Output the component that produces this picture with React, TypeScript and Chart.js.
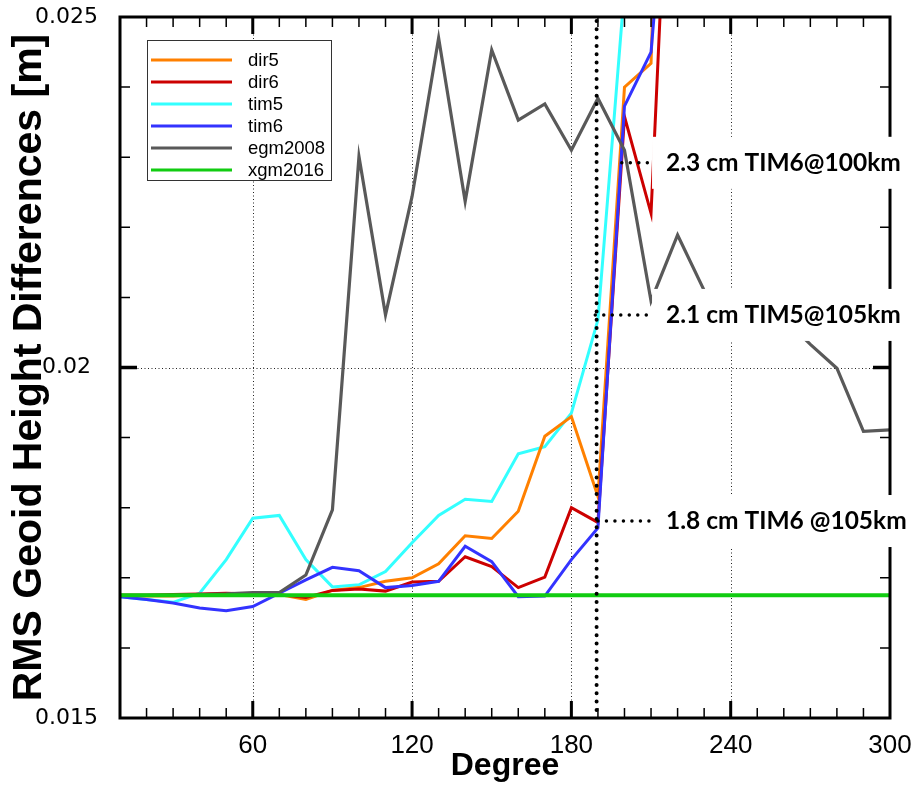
import React, { useEffect, useRef } from 'react';
import { Chart, registerables } from 'chart.js';
Chart.register(...registerables);

// ---- data (degree 10..300 step 10) ----
const degrees = [10, 20, 30, 40, 50, 60, 70, 80, 90, 100, 110, 120, 130, 140, 150, 160, 170, 180, 190, 200, 210, 220, 230, 240, 250, 260, 270, 280, 290, 300];

const dir5 = [0.01674, 0.01674, 0.01674, 0.01676, 0.01676, 0.01676, 0.01676, 0.01669, 0.01682, 0.01686, 0.01695, 0.017, 0.0172, 0.0176, 0.01756, 0.01795, 0.01902, 0.0193, 0.01816, 0.024, 0.02434, 0.036];
const dir6 = [0.01675, 0.01675, 0.01676, 0.01677, 0.01678, 0.01677, 0.01676, 0.01672, 0.01682, 0.01684, 0.01681, 0.01694, 0.01695, 0.0173, 0.01716, 0.01686, 0.01701, 0.018, 0.01779, 0.02358, 0.0222, 0.0305];
const tim5 = [0.01673, 0.01669, 0.01665, 0.01678, 0.01726, 0.01785, 0.01789, 0.01726, 0.01687, 0.0169, 0.01709, 0.0175, 0.01789, 0.01812, 0.01809, 0.01877, 0.01887, 0.01935, 0.02068, 0.0254, 0.03];
const tim6 = [0.01673, 0.01669, 0.01664, 0.01657, 0.01653, 0.01659, 0.01678, 0.01697, 0.01715, 0.0171, 0.01686, 0.01689, 0.01695, 0.01745, 0.01723, 0.01673, 0.01674, 0.01726, 0.01771, 0.02373, 0.0245, 0.029];
const egm2008 = [0.01675, 0.01675, 0.01675, 0.01676, 0.01677, 0.01679, 0.01679, 0.01704, 0.01797, 0.02301, 0.02075, 0.02244, 0.0247, 0.02237, 0.02453, 0.02353, 0.02376, 0.0231, 0.02384, 0.0231, 0.02095, 0.02189, 0.0211, 0.0209, 0.0208, 0.0207, 0.02033, 0.01999, 0.01909, 0.01911];
const xgm2016 = [0.01675, 0.01675, 0.01675, 0.01675, 0.01675, 0.01675, 0.01675, 0.01675, 0.01675, 0.01675, 0.01675, 0.01675, 0.01675, 0.01675, 0.01675, 0.01675, 0.01675, 0.01675, 0.01675, 0.01675, 0.01675, 0.01675, 0.01675, 0.01675, 0.01675, 0.01675, 0.01675, 0.01675, 0.01675, 0.01675];

const seriesNames = ['dir5', 'dir6', 'tim5', 'tim6', 'egm2008', 'xgm2016'];
const seriesValues = [dir5, dir6, tim5, tim6, egm2008, xgm2016];

const xTickValues = [60, 120, 180, 240, 300];
const yTickValues = [0.015, 0.02, 0.025];
const xGridValues = [60, 120, 180, 240];
const yGridValues = [0.02];
const xMinorStep = 10;
const yMinorStep = 0.001;

const markerDegree = 189.5;
const annotationLabels = ['2.3 cm TIM6@100km', '2.1 cm TIM5@105km', '1.8 cm TIM6 @105km'];
const annotationValues = [0.02292, 0.02075, 0.01781];
const annotationFrom = [199, 189, 190];
const annotationBoxDegree = 210;

// ---- styles ----
const colors = ['#FF8000', '#CC0000', '#33FFFF', '#3333FF', '#595959', '#11CC11'];
const widths = [3, 3, 3, 3, 3.2, 4];
const drawOrder = [4, 3, 5, 2, 1, 0];

const decorPlugin = {
  id: 'decor',
  beforeDatasetsDraw(chart: any) {
    const { ctx, chartArea: a, scales } = chart;
    const x = scales.x, y = scales.y;
    ctx.save();
    ctx.strokeStyle = '#222';
    ctx.lineWidth = 1;
    ctx.setLineDash([1, 2.5]);
    for (const v of xGridValues) {
      const px = Math.round(x.getPixelForValue(v)) + 0.5;
      ctx.beginPath(); ctx.moveTo(px, a.top); ctx.lineTo(px, a.bottom); ctx.stroke();
    }
    for (const v of yGridValues) {
      const py = Math.round(y.getPixelForValue(v)) + 0.5;
      ctx.beginPath(); ctx.moveTo(a.left, py); ctx.lineTo(a.right, py); ctx.stroke();
    }
    ctx.restore();
  },
  afterDatasetsDraw(chart: any) {
    const { ctx, chartArea: a, scales } = chart;
    const x = scales.x, y = scales.y;
    ctx.save();
    ctx.setLineDash([]);
    ctx.strokeStyle = '#000';
    // ticks (inward)
    const xmin = x.min, xmax = x.max;
    for (let d = Math.ceil(xmin / xMinorStep) * xMinorStep; d <= xmax; d += xMinorStep) {
      if (d <= xmin || d >= xmax) continue;
      const major = xTickValues.includes(d);
      const px = x.getPixelForValue(d);
      const len = major ? 17 : 10;
      ctx.lineWidth = major ? 3 : 1.5;
      ctx.beginPath();
      ctx.moveTo(px, a.bottom); ctx.lineTo(px, a.bottom - len);
      ctx.moveTo(px, a.top); ctx.lineTo(px, a.top + len);
      ctx.stroke();
    }
    const nY = Math.round((y.max - y.min) / yMinorStep);
    for (let i = 1; i < nY; i++) {
      const v = y.min + i * yMinorStep;
      const major = yTickValues.some((t) => Math.abs(t - v) < 1e-9);
      const py = y.getPixelForValue(v);
      const len = major ? 17 : 10;
      ctx.lineWidth = major ? 3.5 : 1.5;
      ctx.beginPath();
      ctx.moveTo(a.left, py); ctx.lineTo(a.left + len, py);
      ctx.moveTo(a.right, py); ctx.lineTo(a.right - len, py);
      ctx.stroke();
    }
    // frame
    ctx.lineWidth = 3;
    ctx.strokeRect(a.left, a.top, a.right - a.left, a.bottom - a.top);

    // marker vertical dotted line
    const mx = x.getPixelForValue(markerDegree);
    ctx.lineWidth = 4;
    ctx.lineCap = 'round';
    ctx.setLineDash([0, 8.3]);
    ctx.beginPath(); ctx.moveTo(mx, a.top + 4); ctx.lineTo(mx, a.bottom); ctx.stroke();

    // annotations
    const boxLeft = x.getPixelForValue(annotationBoxDegree) + 1;
    annotationLabels.forEach((label, i) => {
      const py = y.getPixelForValue(annotationValues[i]);
      ctx.setLineDash([]);
      ctx.fillStyle = '#fff';
      ctx.fillRect(boxLeft, py - 26, 905 - boxLeft, 52);
      ctx.strokeStyle = '#000';
      ctx.lineWidth = 3.5;
      ctx.lineCap = 'round';
      ctx.setLineDash([0, 8.5]);
      ctx.beginPath();
      ctx.moveTo(x.getPixelForValue(annotationFrom[i]), py);
      ctx.lineTo(boxLeft - 3, py);
      ctx.stroke();
      ctx.setLineDash([]);
      ctx.fillStyle = '#000';
      ctx.font = "bold 24.5px Lato, 'Open Sans', sans-serif";
      ctx.textBaseline = 'middle';
      ctx.textAlign = 'left';
      ctx.fillText(label, boxLeft + 14, py);
    });

    // legend
    const lx = a.left + 27, ly = a.top + 23, lw = 184, lh = 140;
    ctx.setLineDash([]);
    ctx.lineCap = 'butt';
    ctx.fillStyle = '#fff';
    ctx.fillRect(lx, ly, lw, lh);
    ctx.strokeStyle = '#333';
    ctx.lineWidth = 1;
    ctx.strokeRect(lx + 0.5, ly + 0.5, lw, lh);
    chart.data.datasets.forEach((ds: any, i: number) => {
      const ry = ly + 20 + i * 22;
      ctx.strokeStyle = ds.borderColor;
      ctx.lineWidth = 3;
      ctx.beginPath(); ctx.moveTo(lx + 4, ry); ctx.lineTo(lx + 85, ry); ctx.stroke();
      ctx.fillStyle = '#000';
      ctx.font = "18.5px 'Liberation Sans', Arial, sans-serif";
      ctx.textAlign = 'left';
      ctx.textBaseline = 'middle';
      ctx.fillText(ds.label, lx + 101, ry + 1);
    });
    ctx.restore();
  },
};

export default function App() {
  const ref = useRef<HTMLCanvasElement>(null);
  useEffect(() => {
    document.body.style.margin = '0';
    const canvas = ref.current;
    if (!canvas) return;
    const datasets = seriesNames.map((name, i) => ({
      label: name,
      data: seriesValues[i].map((v, j) => ({ x: degrees[j], y: v })),
      borderColor: colors[i],
      backgroundColor: colors[i],
      borderWidth: widths[i],
      pointRadius: 0,
      tension: 0,
      fill: false,
      order: drawOrder[i],
    }));
    const chart = new Chart(canvas, {
      type: 'line',
      data: { datasets },
      options: {
        animation: false,
        responsive: false,
        devicePixelRatio: 1,
        layout: { padding: { top: 17, right: 27, left: 0, bottom: 0 } },
        plugins: { legend: { display: false }, tooltip: { enabled: false } },
        scales: {
          x: {
            type: 'linear',
            min: 10,
            max: 300,
            afterBuildTicks: (s: any) => { s.ticks = xTickValues.map((v) => ({ value: v })); },
            afterFit: (s: any) => { s.height = 67; s.paddingLeft = 0; s.paddingRight = 0; },
            grid: { display: false },
            border: { display: false },
            ticks: {
              color: '#000',
              padding: 4,
              maxRotation: 0,
              autoSkip: false,
              font: { family: "'Liberation Sans', Arial, sans-serif", size: 26 },
            },
            title: {
              display: true,
              text: 'Degree',
              color: '#000',
              padding: { top: 0, bottom: 0 },
              font: { family: "'Liberation Sans', Arial, sans-serif", size: 32, weight: 'bold' },
            },
          },
          y: {
            type: 'linear',
            min: 0.015,
            max: 0.025,
            afterBuildTicks: (s: any) => { s.ticks = yTickValues.map((v) => ({ value: v })); },
            afterFit: (s: any) => { s.width = 120; s.paddingTop = 0; s.paddingBottom = 0; },
            grid: { display: false },
            border: { display: false },
            ticks: {
              color: '#000',
              padding: 14,
              crossAlign: 'center',
              font: { family: "'DejaVu Sans', sans-serif", size: 22 },
              callback: (v: any) => String(Number(Number(v).toFixed(3))),
            },
            title: {
              display: true,
              text: 'RMS Geoid Height Differences [m]',
              color: '#000',
              padding: { top: 5, bottom: 0 },
              font: { family: "'Liberation Sans', Arial, sans-serif", size: 41, weight: 'bold' },
            },
          },
        },
      },
      plugins: [decorPlugin],
    } as any);
    return () => chart.destroy();
  }, []);
  return (
    <div style={{ width: 917, height: 785 }}>
      <canvas ref={ref} width={917} height={785} style={{ display: 'block' }} />
    </div>
  );
}
